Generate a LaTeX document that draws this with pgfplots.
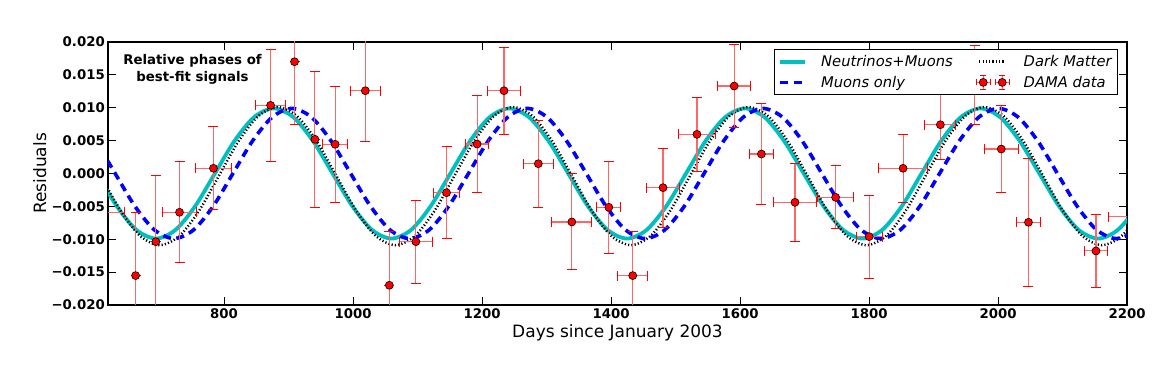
\documentclass[border=0pt]{standalone}
\usepackage{fontspec}
\setmainfont{DejaVu Sans}
\usepackage{pgfplots}
\pgfplotsset{compat=1.18}
\usepackage{pgfplotstable}
\usetikzlibrary{calc}

\definecolor{mplcyan}{rgb}{0,0.75,0.75}

% x  y  xerr  yerr  (days since Jan 2003, residual)
\pgfplotstableread{
x y ex ey
600 -0.0059 45 0.0060
662.8 -0.01553 0 0.0096
694.2 -0.01037 0 0.0100
730.9 -0.0059 26 0.0077
783.5 0.00079 28 0.0063
872.1 0.01037 23 0.0085
909.2 0.0170 0 0.0095
940.8 0.0052 0 0.0103
972.2 0.00444 19 0.0088
1019 0.01259 23 0.0077
1056.2 -0.0170 0 0.0082
1097.4 -0.01037 25 0.0063
1144.9 -0.00292 20 0.0070
1192.3 0.00448 18 0.0074
1234 0.01259 26 0.0066
1287.2 0.00149 23 0.0066
1339.2 -0.00737 31 0.0073
1396.5 -0.00514 18.5 0.0070
1433.6 -0.01553 23 0.0067
1480.6 -0.00216 25.5 0.0060
1533.2 0.00596 29 0.0056
1590.9 0.0133 26 0.0063
1633.1 0.00296 18 0.0077
1685.2 -0.00438 34 0.0059
1748.2 -0.00362 28 0.0048
1800.2 -0.0096 20 0.0063
1852.8 0.00079 38 0.0052
1910.6 0.00742 24 0.0053
1963.7 0.0135 0 0.0060
2005 0.00372 26 0.0066
2047.2 -0.00742 18 0.0097
2151.9 -0.01178 17.5 0.0055
2210 -0.0066 39 0.0050
}\damadata

\begin{document}
\begin{tikzpicture}
\begin{axis}[
  scale only axis, width=1019pt, height=263pt,
  xmin=620, xmax=2200, ymin=-0.02, ymax=0.02,
  scaled y ticks=false, scaled x ticks=false,
  xtick={800,1000,1200,1400,1600,1800,2000,2200},
  xticklabels={800,1000,1200,1400,1600,1800,2000,2200},
  ytick={-0.02,-0.015,-0.01,-0.005,0,0.005,0.01,0.015,0.02},
  yticklabels={−0.020,−0.015,−0.010,−0.005,0.000,0.005,0.010,0.015,0.020},
  ticklabel style={font=\fontsize{13.3}{16}\selectfont\bfseries},
  xticklabel style={inner sep=0pt, yshift=-3pt},
  yticklabel style={inner sep=0pt, xshift=-3pt},
  tick align=inside, major tick length=8pt,
  tick style={black, line width=1pt},
  axis line style={line width=1.5pt},
  xlabel={Days since January 2003},
  ylabel={Residuals},
  every axis x label/.style={at={(axis description cs:0.5,-0.106)}, anchor=center,
    font=\fontsize{17}{20}\selectfont},
  every axis y label/.style={at={(axis description cs:-0.067,0.5)}, anchor=center, rotate=90,
    font=\fontsize{17}{20}\selectfont},
  clip marker paths=true,
  legend columns=2,
  legend cell align=left,
  legend image code/.code={\draw[#1] (0pt,0pt) -- (25pt,0pt);},
  legend style={at={(1,1)}, anchor=north east, xshift=-9pt, yshift=-7pt,
    draw=black, line width=0.8pt, fill=white, inner xsep=4pt, inner ysep=4pt,
    font=\fontsize{14.7}{18}\selectfont\itshape,
    row sep=4pt,
    /tikz/every odd column/.append style={column sep=12pt},
    /tikz/every even column/.append style={column sep=21pt}},
]
% Neutrinos + Muons
\addplot[mplcyan, line width=3.8pt, smooth] coordinates {
(572.6,0.00495) (603.1,0) (633.5,-0.00495) (663.9,-0.00857) (694.4,-0.0099) (724.8,-0.00857) (755.3,-0.00495) (785.7,0) (816.1,0.00495) (846.6,0.00857)
(877,0.0099) (907.4,0.00857) (937.9,0.00495) (968.3,0) (998.8,-0.00495) (1029.2,-0.00857) (1059.6,-0.0099) (1090.1,-0.00857) (1120.5,-0.00495) (1150.9,0) (1181.4,0.00495) (1211.8,0.00857)
(1242.3,0.0099) (1272.7,0.00857) (1303.1,0.00495) (1333.6,0) (1364,-0.00495) (1394.4,-0.00857) (1424.9,-0.0099) (1455.3,-0.00857) (1485.8,-0.00495) (1516.2,0) (1546.6,0.00495) (1577.1,0.00857)
(1607.5,0.0099) (1637.9,0.00857) (1668.4,0.00495) (1698.8,0) (1729.3,-0.00495) (1759.7,-0.00857) (1790.1,-0.0099) (1820.6,-0.00857) (1851,-0.00495) (1881.4,0) (1911.9,0.00495) (1942.3,0.00857)
(1972.8,0.0099) (2003.2,0.00857) (2033.6,0.00495) (2064.1,0) (2094.5,-0.00495) (2124.9,-0.00857) (2155.4,-0.0099) (2185.8,-0.00857) (2216.3,-0.00495) (2246.7,0)
};
\addlegendentry{Neutrinos+Muons}
% Dark Matter
\addplot[black, line width=2.5pt, dash pattern=on 1.2pt off 2.1pt, smooth] coordinates {
(578.6,0.00485) (609.1,-0.0004) (639.5,-0.00565) (669.9,-0.00949) (700.4,-0.0109) (730.8,-0.00949) (761.3,-0.00565) (791.7,-0.0004) (822.1,0.00485) (852.6,0.00869)
(883,0.0101) (913.4,0.00869) (943.9,0.00485) (974.3,-0.0004) (1004.8,-0.00565) (1035.2,-0.00949) (1065.6,-0.0109) (1096.1,-0.00949) (1126.5,-0.00565) (1156.9,-0.0004) (1187.4,0.00485) (1217.8,0.00869)
(1248.3,0.0101) (1278.7,0.00869) (1309.1,0.00485) (1339.6,-0.0004) (1370,-0.00565) (1400.4,-0.00949) (1430.9,-0.0109) (1461.3,-0.00949) (1491.8,-0.00565) (1522.2,-0.0004) (1552.6,0.00485) (1583.1,0.00869)
(1613.5,0.0101) (1643.9,0.00869) (1674.4,0.00485) (1704.8,-0.0004) (1735.3,-0.00565) (1765.7,-0.00949) (1796.1,-0.0109) (1826.6,-0.00949) (1857,-0.00565) (1887.4,-0.0004) (1917.9,0.00485) (1948.3,0.00869)
(1978.8,0.0101) (2009.2,0.00869) (2039.6,0.00485) (2070.1,-0.0004) (2100.5,-0.00565) (2130.9,-0.00949) (2161.4,-0.0109) (2191.8,-0.00949) (2222.3,-0.00565) (2252.7,-0.0004)
};
\addlegendentry{Dark Matter}
% Muons only
\addplot[blue, line width=3.6pt, dash pattern=on 8pt off 5.5pt, smooth] coordinates {
(570.2,0.00857) (600.6,0.00495) (631.1,0) (661.5,-0.00495) (691.9,-0.00857) (722.4,-0.0099) (752.8,-0.00857) (783.3,-0.00495) (813.7,0) (844.1,0.00495) (874.6,0.00857)
(905,0.0099) (935.4,0.00857) (965.9,0.00495) (996.3,0) (1026.8,-0.00495) (1057.2,-0.00857) (1087.6,-0.0099) (1118.1,-0.00857) (1148.5,-0.00495) (1178.9,0) (1209.4,0.00495) (1239.8,0.00857)
(1270.3,0.0099) (1300.7,0.00857) (1331.1,0.00495) (1361.6,0) (1392,-0.00495) (1422.4,-0.00857) (1452.9,-0.0099) (1483.3,-0.00857) (1513.8,-0.00495) (1544.2,0) (1574.6,0.00495) (1605.1,0.00857)
(1635.5,0.0099) (1665.9,0.00857) (1696.4,0.00495) (1726.8,0) (1757.3,-0.00495) (1787.7,-0.00857) (1818.1,-0.0099) (1848.6,-0.00857) (1879,-0.00495) (1909.4,0) (1939.9,0.00495) (1970.3,0.00857)
(2000.8,0.0099) (2031.2,0.00857) (2061.6,0.00495) (2092.1,0) (2122.5,-0.00495) (2152.9,-0.00857) (2183.4,-0.0099) (2213.8,-0.00857) (2244.3,-0.00495)
};
\addlegendentry{Muons only}
% DAMA data
\addplot[only marks, mark=*, mark size=4pt,
  mark options={fill=red, draw=black, line width=0.6pt},
  legend image code/.code={
    \foreach \mx in {4pt,23pt}{
      \draw[red!60, line width=1pt] (\mx-7pt,0pt) -- (\mx+7pt,0pt);
      \draw[red!60, line width=1pt] (\mx,-7pt) -- (\mx,7pt);
      \draw[red, line width=1pt] (\mx-7pt,-3pt) -- (\mx-7pt,3pt);
      \draw[red, line width=1pt] (\mx+7pt,-3pt) -- (\mx+7pt,3pt);
      \draw[red, line width=1pt] (\mx-3pt,-7pt) -- (\mx+3pt,-7pt);
      \draw[red, line width=1pt] (\mx-3pt,7pt) -- (\mx+3pt,7pt);
      \filldraw[fill=red, draw=black, line width=0.6pt] (\mx,0pt) circle (4pt);
    }},
  error bars/.cd, x dir=both, x explicit, y dir=both, y explicit,
  error bar style={red!60, line width=1.1pt},
  error mark options={rotate=90, red, line width=1pt, mark size=5pt},
  ] table[x=x, y=y, x error=ex, y error=ey] {\damadata};
\addlegendentry{DAMA data}
\node[font=\fontsize{13.3}{17}\selectfont\bfseries, align=center]
  at (axis cs:751,0.0158) {Relative phases of\\best-fit signals};
\end{axis}
\path ($(current axis.south west)+(-108pt,-60pt)$) rectangle ($(current axis.north east)+(37pt,42pt)$);
\end{tikzpicture}
\end{document}
